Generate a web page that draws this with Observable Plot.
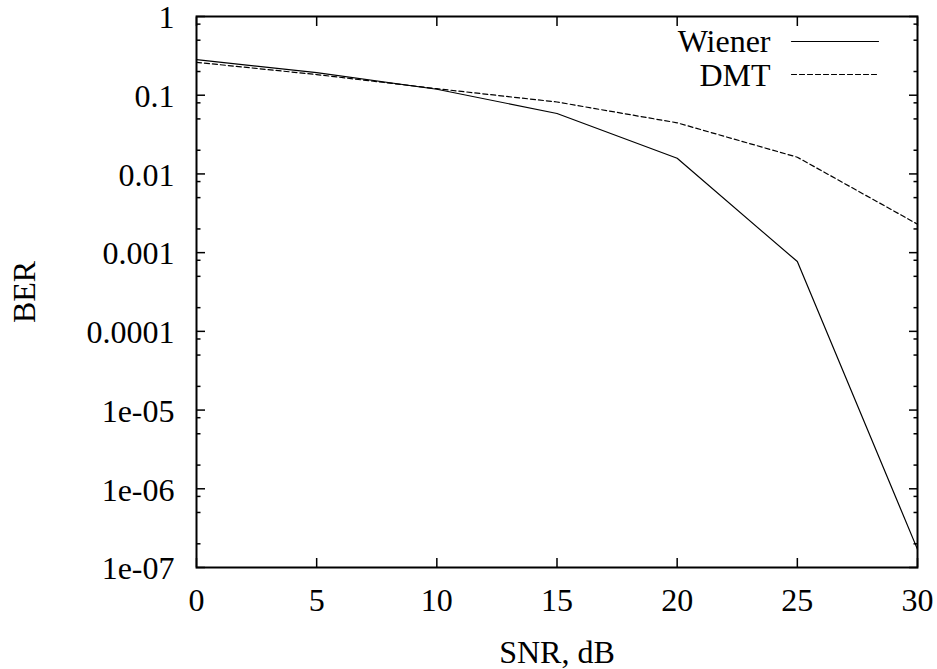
<!DOCTYPE html>
<html><head><meta charset="utf-8">
<script src="https://cdn.jsdelivr.net/npm/d3@7"></script>
<script src="https://cdn.jsdelivr.net/npm/@observablehq/plot@0.6"></script>
<style>
body{margin:0;background:#fff}
svg, svg text { font-family: "Liberation Serif", "Times New Roman", Times, serif !important; }
</style>
</head><body><div id="chart"></div>
<script>
const snr = [0, 5, 10, 15, 20, 25, 30];
const wiener = [0.283, 0.194, 0.119, 0.0586, 0.0158, 0.00077, 1.7e-7];
const dmt = [0.262, 0.183, 0.121, 0.082, 0.0446, 0.0163, 0.0023];
const seriesNames = ["Wiener", "DMT"];
const xTicks = [0, 5, 10, 15, 20, 25, 30];
const yTicks = [1, 0.1, 0.01, 0.001, 0.0001, 1e-5, 1e-6, 1e-7];
const yTickLabels = ["1", "0.1", "0.01", "0.001", "0.0001", "1e-05", "1e-06", "1e-07"];
const yMinorTicks = [0.8, 0.5, 0.2, 0.08, 0.05, 0.02, 0.008, 0.005, 0.002,
  8e-4, 5e-4, 2e-4, 8e-5, 5e-5, 2e-5, 8e-6, 5e-6, 2e-6, 8e-7, 5e-7, 2e-7];
const xLabel = "SNR, dB";
const yLabel = "BER";

const wienerRows = snr.map((x, i) => ({snr: x, ber: wiener[i]}));
const dmtRows = snr.map((x, i) => ({snr: x, ber: dmt[i]}));

const FS = 32;
const lineShape = {draw(context, l) { context.moveTo(0, 0); context.lineTo(0, -l); }};
const blank = () => "";

const chart = Plot.plot({
  width: 937,
  height: 669,
  marginLeft: 196,
  marginRight: 20,
  marginTop: 16,
  marginBottom: 102,
  style: {fontSize: FS + "px", background: "#fff", color: "#000", overflow: "visible"},
  x: {domain: [0, 30]},
  y: {type: "log", domain: [1e-7, 1]},
  marks: [
    Plot.line(wienerRows, {x: "snr", y: "ber", stroke: "#000", strokeWidth: 1.2}),
    Plot.line(dmtRows, {x: "snr", y: "ber", stroke: "#000", strokeWidth: 1.2, strokeDasharray: "5,3"}),
    Plot.axisY(yTicks, {anchor: "left", tickSize: 0, tickPadding: 22, dy: 1.5, tickFormat: d => yTickLabels[yTicks.indexOf(d)], fontSize: FS, label: null}),
    Plot.axisY(yTicks, {anchor: "left", tickSize: -9, strokeWidth: 1.5, tickFormat: blank, label: null}),
    Plot.axisY(yMinorTicks, {anchor: "left", tickSize: -4.5, strokeWidth: 1.5, tickFormat: blank, label: null}),
    Plot.axisY(yTicks, {anchor: "right", tickSize: -9, strokeWidth: 1.5, tickFormat: blank, label: null}),
    Plot.axisY(yMinorTicks, {anchor: "right", tickSize: -4.5, strokeWidth: 1.5, tickFormat: blank, label: null}),
    Plot.axisX(xTicks, {anchor: "bottom", tickSize: 0, tickPadding: 21, fontSize: FS, label: null}),
    Plot.axisX(xTicks, {anchor: "bottom", tickSize: -9, strokeWidth: 1.5, tickFormat: blank, label: null}),
    Plot.axisX(xTicks, {anchor: "top", tickSize: -9, strokeWidth: 1.5, tickFormat: blank, label: null}),
    Plot.frame({stroke: "#000", strokeWidth: 2}),
    Plot.text([xLabel], {frameAnchor: "bottom", dy: 85, lineAnchor: "middle", textAnchor: "middle", fontSize: FS, fill: "#000"}),
    Plot.text([yLabel], {frameAnchor: "left", dx: -172, rotate: -90, lineAnchor: "middle", textAnchor: "middle", fontSize: FS, fill: "#000"}),
    Plot.text([seriesNames[0]], {frameAnchor: "top-right", dx: -147, dy: 25, textAnchor: "end", lineAnchor: "middle", fontSize: FS, fill: "#000"}),
    Plot.text([seriesNames[1]], {frameAnchor: "top-right", dx: -147, dy: 59, textAnchor: "end", lineAnchor: "middle", fontSize: FS, fill: "#000"}),
    Plot.vector([seriesNames[0]], {frameAnchor: "top-right", dx: -39, dy: 25, rotate: 90, length: 87, anchor: "end", shape: lineShape, stroke: "#000", strokeWidth: 1.2}),
    Plot.vector([seriesNames[1]], {frameAnchor: "top-right", dx: -39, dy: 58, rotate: 90, length: 87, anchor: "end", shape: lineShape, stroke: "#000", strokeWidth: 1.2, strokeDasharray: "5,3"})
  ]
});
document.getElementById("chart").appendChild(chart);
</script>
</body></html>
